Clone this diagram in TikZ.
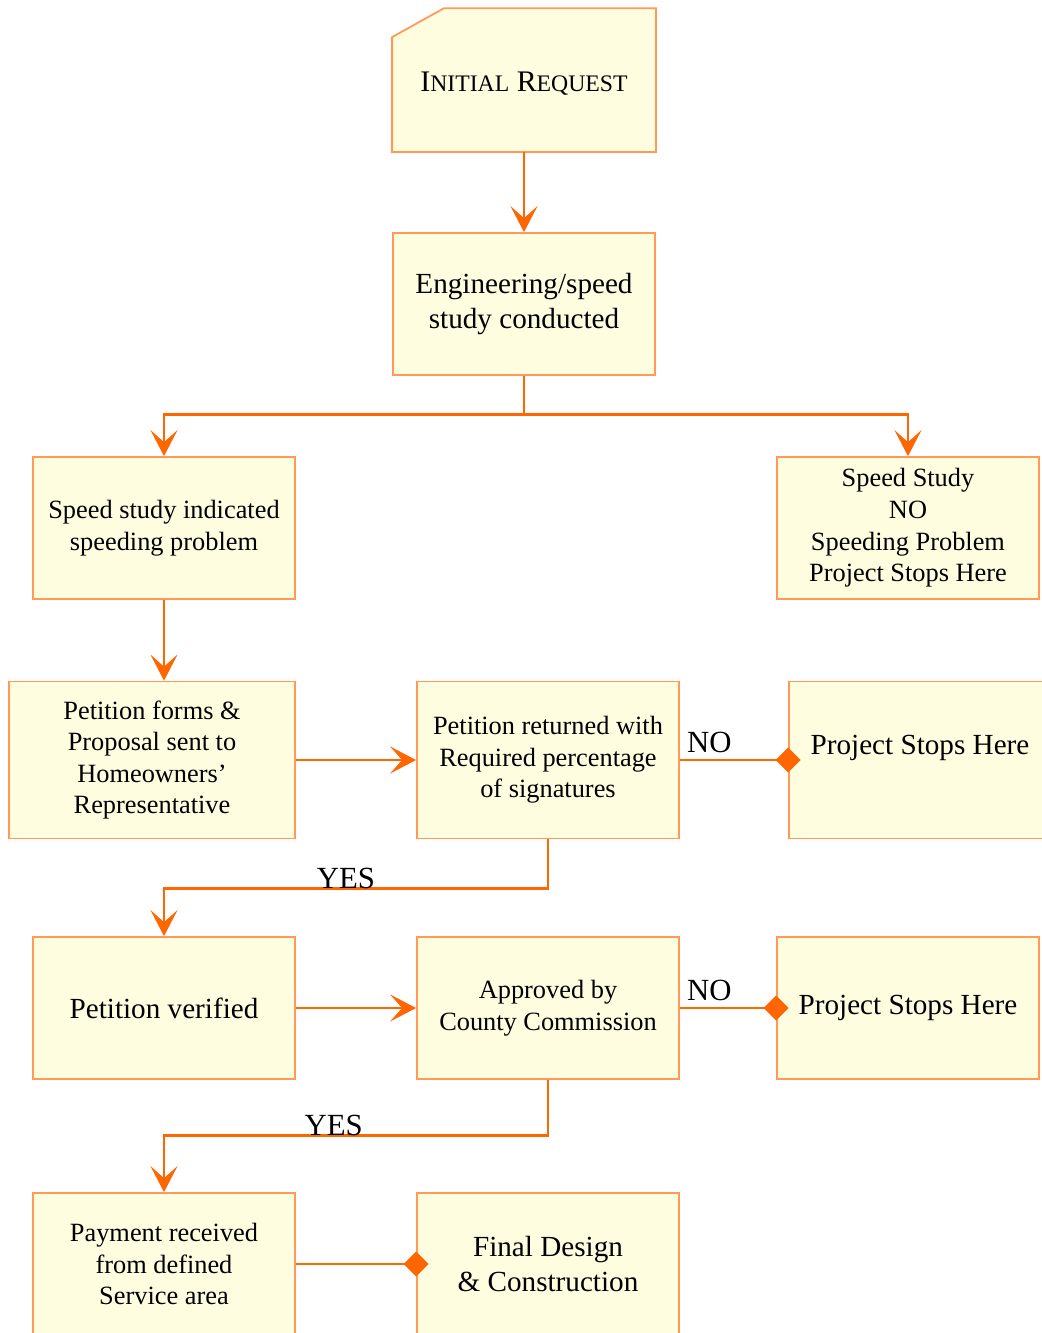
\documentclass[tikz,border=0pt]{standalone}
\usepackage{fontspec}
\setmainfont{Liberation Serif}
\usepackage{tikz}
\usetikzlibrary{positioning, arrows.meta, backgrounds}

\definecolor{boxfill}{RGB}{255,253,224}
\definecolor{boxline}{RGB}{255,153,85}
\definecolor{flowline}{RGB}{255,102,0}

\begin{document}
\begin{tikzpicture}[node distance=4.48cm]
    \tikzstyle{stage} = [rectangle,
minimum width=5.24cm,
minimum height=2.84cm,
align=center,
fill=boxfill,
draw=boxline,
line width=1pt,
font=\fontsize{15}{18}\selectfont]

\tikzstyle{tall} = [minimum height=3.14cm]
\tikzstyle{big} = [font=\fontsize{16.6}{19.5}\selectfont]
\tikzstyle{answer} = [text=black, font=\fontsize{17.5}{20}\selectfont]
\tikzstyle{arrow} = [line width=1.6pt, color=flowline,
-{Stealth[length=0.52cm, width=0.54cm, inset=0.24cm]}]
\tikzstyle{stopline} = [line width=1.6pt, color=flowline,
-{Diamond[length=0.5cm, width=0.5cm]}, shorten >=-0.25cm]

\useasboundingbox (0,0) rectangle (20.84,-26.66);

\node (start) [stage, draw=none, fill=none, text height=0.55cm, font=\fontsize{17}{20}\selectfont] at (10.48,-1.6) {I{\fontsize{13.5}{16}\selectfont NITIAL} R{\fontsize{13.5}{16}\selectfont EQUEST}};
\node (eng) [stage, big, below of=start] {Engineering/speed\\study conducted};
\node (yes) [stage, below of=eng, xshift=-7.2cm] {Speed study indicated\\speeding problem};
\node (no) [stage, below of=eng, xshift=7.68cm] {Speed Study\\NO\\Speeding Problem\\Project Stops Here};
\node (petition) [stage, tall, minimum width=5.72cm, below of=yes, xshift=-0.24cm, yshift=-0.16cm] {Petition forms \&\\Proposal sent to\\Homeowners’\\Representative};
\node (returned) [stage, tall, right of=petition, xshift=3.44cm] {Petition returned with\\Required percentage\\of signatures};
\node (stopA) [stage, tall, big, text depth=0.6cm, right of=returned, xshift=2.96cm] {Project Stops Here};
\node (verified) [stage, big, below of=petition, xshift=0.24cm, yshift=-0.48cm] {Petition verified};
\node (approved) [stage, right of=verified, xshift=3.2cm] {Approved by\\County Commission};
\node (stopB) [stage, big, right of=approved, xshift=2.72cm] {Project Stops Here};
\node (payment) [stage, below of=verified, yshift=-0.64cm] {Payment received\\from defined\\Service area};
\node (final) [stage, big, right of=payment, xshift=3.2cm] {Final Design\\\& Construction};

% folded corner box behind the first node
\begin{scope}[on background layer]
\filldraw [fill=boxfill, draw=boxline, line width=1pt] (start.south west) -- (start.south east) -- (start.north east) -- ([xshift=1.04cm]start.north west) -- ([yshift=-0.58cm]start.north west) -- cycle;
\end{scope}

\coordinate [below=0.78cm of eng.south] (split);

\draw [arrow] (start.south) -- (eng.north);
\draw [arrow] (eng.south) -- (split) -| (yes.north);
\draw [arrow] (split) -| (no.north);
\draw [arrow] (yes.south) -- (yes.south |- petition.north);
\draw [arrow] (petition) -- (returned);
\draw [stopline] (returned) -- node[answer, pos=0, anchor=south west] {NO} (stopA);
\draw [arrow] (returned.south) -- ++(0,-0.98cm) -| node[answer, pos=0.263, anchor=base, inner sep=0pt] {YES} (verified.north);
\draw [arrow] (verified) -- (approved);
\draw [stopline] (approved) -- node[answer, pos=0, anchor=south west] {NO} (stopB);
\draw [arrow] (approved.south) -- ++(0,-1.12cm) -| node[answer, pos=0.279, anchor=base, inner sep=0pt] {YES} (payment.north);
\draw [stopline] (payment) -- (final);

\end{tikzpicture}
\end{document}
